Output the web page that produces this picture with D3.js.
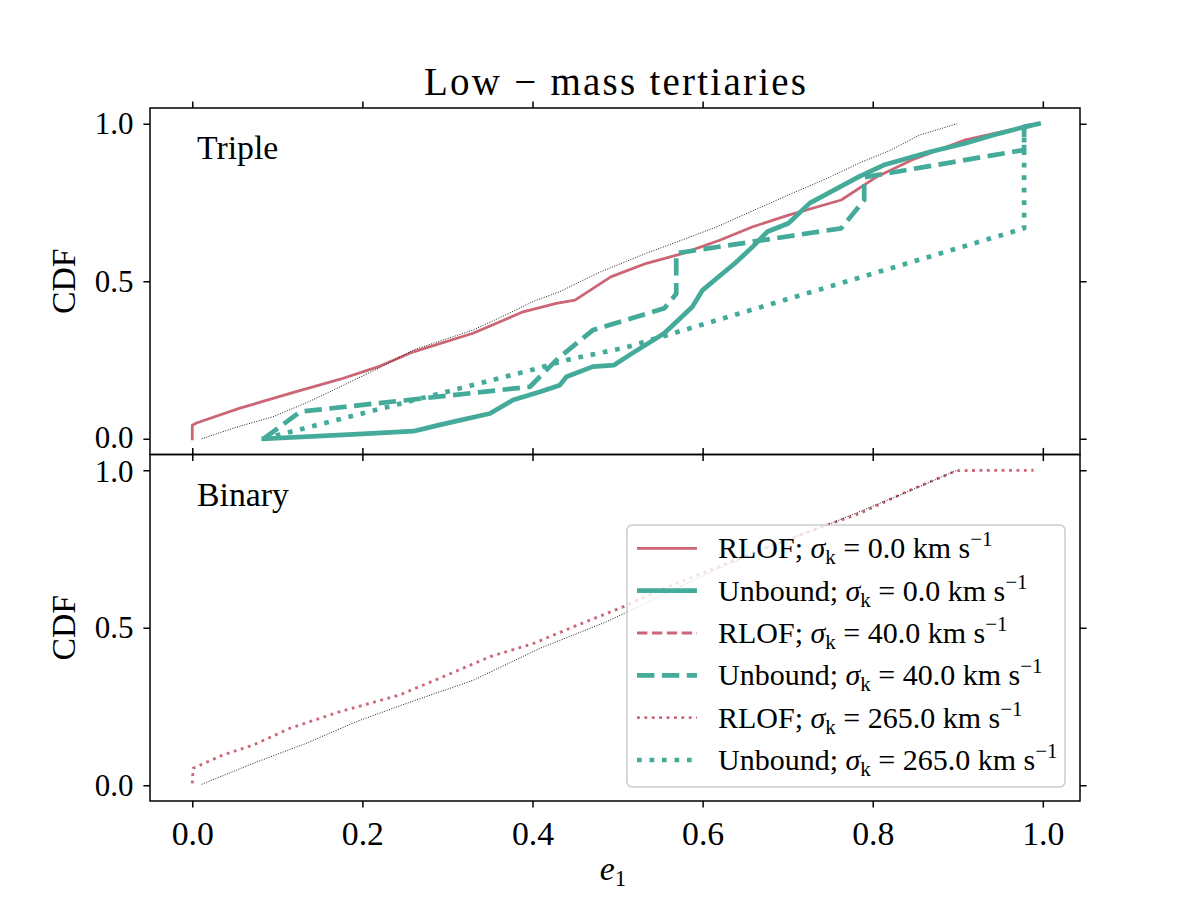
<!DOCTYPE html>
<html lang="en">
<head>
  <meta charset="UTF-8">
  <title>Low-mass tertiaries</title>
  <script src="https://cdn.jsdelivr.net/npm/d3@7"></script>
  <style>
    body { margin: 0; background: #fff; }
    svg text { font-family: 'Liberation Serif', 'DejaVu Serif', serif; fill: #000; }
  </style>
</head>
<body>
<div id="grafica"></div>
<script>
// ticks
const xTicks = [0, 0.2, 0.4, 0.6, 0.8, 1.0]
const yTicks = [0, 0.5, 1.0]

// Triple panel, [e1, CDF] pairs
const tripleRef = [[0.011,0],[0.05,0.035],[0.095,0.07],[0.135,0.115],[0.174,0.165],[0.22,0.225],[0.26,0.282],[0.3,0.318],[0.33,0.345],[0.37,0.395],[0.40,0.435],[0.432,0.467],[0.48,0.53],[0.534,0.589],[0.575,0.63],[0.617,0.673],[0.66,0.725],[0.701,0.774],[0.745,0.825],[0.784,0.875],[0.82,0.915],[0.855,0.964],[0.899,1.0]]
const tripleRlof0 = [[0,0],[0,0.043],[0.005,0.05],[0.056,0.097],[0.115,0.144],[0.174,0.189],[0.22,0.23],[0.26,0.276],[0.33,0.335],[0.389,0.403],[0.428,0.43],[0.45,0.44],[0.492,0.514],[0.534,0.557],[0.575,0.587],[0.62,0.63],[0.659,0.673],[0.701,0.71],[0.763,0.758],[0.805,0.832],[0.846,0.885],[0.909,0.949],[0.995,1.0]]
const tripleUnb0 = [[0.084,0],[0.189,0.014],[0.26,0.024],[0.291,0.044],[0.35,0.08],[0.377,0.123],[0.409,0.149],[0.432,0.17],[0.44,0.197],[0.471,0.229],[0.496,0.234],[0.517,0.271],[0.555,0.335],[0.588,0.419],[0.6,0.472],[0.638,0.557],[0.659,0.61],[0.676,0.657],[0.701,0.684],[0.726,0.748],[0.755,0.79],[0.784,0.832],[0.813,0.869],[0.868,0.911],[0.909,0.938],[0.942,0.964],[0.98,0.991],[0.995,1.0]]
const tripleUnb40 = [[0.084,0],[0.127,0.086],[0.397,0.165],[0.43,0.255],[0.471,0.345],[0.555,0.414],[0.569,0.46],[0.569,0.589],[0.763,0.668],[0.79,0.758],[0.79,0.83],[0.978,0.917],[0.978,0.99],[0.995,1.0]]
const tripleUnb265 = [[0.084,0],[0.407,0.224],[0.44,0.25],[0.51,0.29],[0.978,0.668],[0.978,1.0]]

// Binary panel
const binaryRef = [[0.011,0.003],[0.072,0.07],[0.134,0.133],[0.193,0.202],[0.252,0.26],[0.33,0.333],[0.409,0.435],[0.487,0.519],[0.55,0.6],[0.62,0.69],[0.68,0.76],[0.746,0.826],[0.785,0.869],[0.844,0.935],[0.899,1.0]]
const binaryRlof265 = [[0,0.006],[0.001,0.054],[0.036,0.096],[0.072,0.128],[0.115,0.181],[0.174,0.234],[0.244,0.287],[0.291,0.34],[0.35,0.408],[0.401,0.45],[0.448,0.503],[0.507,0.567],[0.55,0.62],[0.668,0.747],[0.746,0.826],[0.785,0.863],[0.844,0.937],[0.899,0.999],[0.989,1.0]]

const sigmas = ['0.0', '40.0', '265.0']
const red = '#CC6677', teal = '#44AA99'

const styles = {
  rlof0:   {color: red,  width: 2.8, dash: null},
  unb0:    {color: teal, width: 4.7, dash: null},
  rlof40:  {color: red,  width: 2.8, dash: '10.4,4.5'},
  unb40:   {color: teal, width: 4.7, dash: '17.4,7.5'},
  rlof265: {color: red,  width: 2.8, dash: '2.8,4.6'},
  unb265:  {color: teal, width: 4.7, dash: '4.7,7.8'},
  ref:     {color: '#000', width: 0.94, dash: '0.94,1.55'}
}

const W = 1200, H = 900
const pL = 150, pR = 1080, pT = 108, pM = 454.5, pB = 801

const svg = d3.select('#grafica').append('svg')
  .attr('width', W).attr('height', H)

const x = d3.scaleLinear().domain([-0.0497, 1.0437]).range([pL, pR])
const yTop = d3.scaleLinear().domain([-0.05, 1.05]).range([pM, pT])
const yBot = d3.scaleLinear().domain([-0.05, 1.05]).range([pB, pM])

// nudge: keep the 0.0 / 1.0 labels at the shared edge from touching
function drawPanel(y, y0, y1, showX, series, label, labelBase, nudge) {
  const g = svg.append('g')

  series.forEach(s => {
    const st = styles[s.style]
    g.append('path')
      .datum(s.data)
      .attr('d', d3.line().x(d => x(d[0])).y(d => y(d[1])))
      .attr('fill', 'none')
      .attr('stroke', st.color)
      .attr('stroke-width', st.width)
      .attr('stroke-dasharray', st.dash)
      .attr('stroke-linejoin', 'round')
      .attr('stroke-linecap', st.dash ? 'butt' : 'square')
  })

  // axes
  const tl = 6.6
  const fmt = d3.format('.1f')
  const axes = [
    g.append('g').attr('transform', `translate(0,${y0})`).call(d3.axisTop(x).tickValues(xTicks).tickSize(tl).tickFormat('')),
    g.append('g').attr('transform', `translate(0,${y1})`).call(d3.axisBottom(x).tickValues(xTicks).tickSize(tl).tickPadding(13).tickFormat(showX ? fmt : '')),
    g.append('g').attr('transform', `translate(${pL},0)`).call(d3.axisLeft(y).tickValues(yTicks).tickSize(tl).tickPadding(10).tickFormat(fmt)),
    g.append('g').attr('transform', `translate(${pR},0)`).call(d3.axisRight(y).tickValues(yTicks).tickSize(tl).tickFormat(''))
  ]
  axes.forEach(a => {
    a.select('.domain').remove()
    a.selectAll('line').attr('stroke', '#000').attr('stroke-width', 1.5)
    a.selectAll('text').attr('font-size', 33.75).attr('fill', '#000')
      .style('font-family', "'Liberation Serif', 'DejaVu Serif', serif")
  })
  axes[2].selectAll('text')
    .attr('font-size', 31)
    .attr('y', d => d === nudge.v ? nudge.dy : 0)

  g.append('rect')
    .attr('x', pL).attr('y', y0)
    .attr('width', pR - pL).attr('height', y1 - y0)
    .attr('fill', 'none').attr('stroke', '#000').attr('stroke-width', 1.5)

  g.append('text')
    .attr('x', 197).attr('y', labelBase)
    .attr('font-size', 33.75)
    .text(label)

  g.append('text')
    .attr('transform', `translate(75,${(y0 + y1) / 2}) rotate(-90)`)
    .attr('text-anchor', 'middle')
    .attr('font-size', 33.75)
    .text('CDF')
  return g
}

drawPanel(yTop, pT, pM, false, [
  {data: tripleRlof0, style: 'rlof0'},
  {data: tripleUnb0, style: 'unb0'},
  {data: tripleUnb40, style: 'unb40'},
  {data: tripleUnb265, style: 'unb265'},
  {data: tripleRef, style: 'ref'}
], 'Triple', 159, {v: 0, dy: -1.5})

const gb = drawPanel(yBot, pM, pB, true, [
  {data: binaryRlof265, style: 'rlof265'},
  {data: binaryRef, style: 'ref'}
], 'Binary', 506, {v: 1, dy: 1.5})

// legend
const legendItems = []
sigmas.forEach((s, i) => {
  const key = ['0', '40', '265'][i]
  legendItems.push({name: 'RLOF', sigma: s, style: 'rlof' + key})
  legendItems.push({name: 'Unbound', sigma: s, style: 'unb' + key})
})

const lg = gb.append('g')
lg.append('rect')
  .attr('x', 627).attr('y', 525).attr('width', 438).attr('height', 262)
  .attr('rx', 5).attr('ry', 5)
  .attr('fill', '#fff').attr('fill-opacity', 0.8)
  .attr('stroke', '#cccccc').attr('stroke-width', 1.5)

const rowY = d3.scaleLinear().domain([0, 5]).range([548.3, 760])
legendItems.forEach((it, i) => {
  const st = styles[it.style]
  const cy = rowY(i)
  lg.append('line')
    .attr('x1', 637).attr('x2', 697).attr('y1', cy).attr('y2', cy)
    .attr('stroke', st.color).attr('stroke-width', st.width)
    .attr('stroke-dasharray', st.dash)
  const t = lg.append('text').attr('x', 718).attr('y', cy + 10).attr('font-size', 30)
  t.append('tspan').text(it.name + '; ')
  t.append('tspan').attr('font-style', 'italic').text('σ')
  t.append('tspan').attr('font-size', 21).attr('dy', 6).text('k')
  t.append('tspan').attr('dy', -6).text(' = ' + it.sigma + ' km s')
  t.append('tspan').attr('font-size', 21).attr('dy', -12).text('−1')
})

// title and x label
svg.append('text')
  .attr('x', (pL + pR) / 2).attr('y', 95)
  .attr('text-anchor', 'middle')
  .attr('font-size', 39)
  .attr('textLength', 382).attr('lengthAdjust', 'spacing')
  .text('Low − mass tertiaries')

const xl = svg.append('text')
  .attr('x', 613).attr('y', 880)
  .attr('text-anchor', 'middle')
  .attr('font-size', 33.75)
xl.append('tspan').attr('font-style', 'italic').text('e')
xl.append('tspan').attr('font-size', 23).attr('dy', 6).text('1')
</script>
</body>
</html>
